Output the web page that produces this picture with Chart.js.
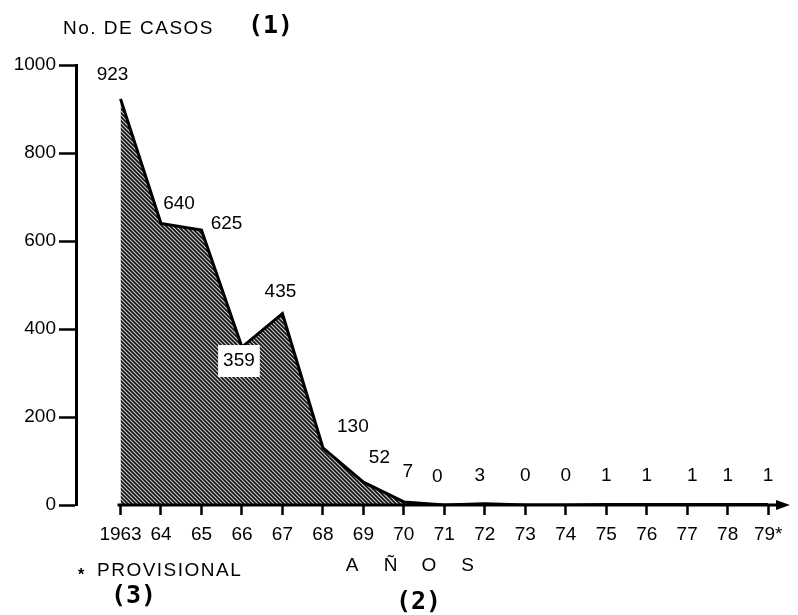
<!DOCTYPE html>
<html>
<head>
<meta charset="utf-8">
<script src="https://cdn.jsdelivr.net/npm/chart.js@4"></script>
<style>
  body { margin: 0; background: #fff; }
</style>
</head>
<body>
<canvas id="grafico" width="798" height="615"></canvas>
<script>
// Datos del gráfico
const anios = [1963, 1964, 1965, 1966, 1967, 1968, 1969, 1970, 1971, 1972, 1973, 1974, 1975, 1976, 1977, 1978, 1979];
const etiquetasAnios = ["1963", "64", "65", "66", "67", "68", "69", "70", "71", "72", "73", "74", "75", "76", "77", "78", "79*"];
const casos = [923, 640, 625, 359, 435, 130, 52, 7, 0, 3, 0, 0, 1, 1, 1, 1, 1];
const ticksY = [0, 200, 400, 600, 800, 1000];

// Desplazamiento de cada etiqueta respecto a su punto (px)
const desplazamientos = [
  [-8, -24], [18, -20], [25, -6], [-3, 14], [-2, -22], [30, -21], [16, -24], [4, -30], [-7, -28],
  [-5, -28], [0, -29], [0, -29], [0, -29], [0, -29], [5, -29], [0, -29], [0, -29]
];

const fuente = '"Liberation Sans", Arial, sans-serif';

// Trama rayada para el área
function crearTrama() {
  const t = document.createElement("canvas");
  t.width = 4; t.height = 4;
  const c = t.getContext("2d");
  c.fillStyle = "#d0d0d0";
  c.fillRect(0, 0, 4, 4);
  c.strokeStyle = "#111";
  c.lineWidth = 1.7;
  c.beginPath();
  c.moveTo(-1, -1); c.lineTo(5, 5);
  c.moveTo(-1, 3); c.lineTo(1, 5);
  c.moveTo(3, -1); c.lineTo(5, 1);
  c.stroke();
  return c.createPattern(t, "repeat");
}

// Textos, etiquetas y eje X con flecha
const anotaciones = {
  id: "anotaciones",
  afterDatasetsDraw(chart) {
    const { ctx } = chart;
    const meta = chart.getDatasetMeta(0);
    ctx.save();
    ctx.font = "19px " + fuente;
    ctx.textAlign = "center";
    ctx.textBaseline = "middle";
    meta.data.forEach((p, i) => {
      const [dx, dy] = desplazamientos[i];
      const x = p.x + dx, y = p.y + dy;
      const txt = String(casos[i]);
      if (i === 3) {
        const w = ctx.measureText(txt).width + 10;
        ctx.fillStyle = "#fff";
        ctx.fillRect(x - w / 2, y - 16, w, 32);
      }
      ctx.fillStyle = "#000";
      ctx.fillText(txt, x, y);
    });
    ctx.restore();
  },
  afterDraw(chart) {
    const { ctx, chartArea } = chart;
    const xs = chart.scales.x, ys = chart.scales.y;
    const y0 = ys.getPixelForValue(0);
    const x0 = xs.getPixelForValue(anios[0]) - 3;
    const xf = chartArea.right;
    ctx.save();
    ctx.strokeStyle = "#000";
    ctx.lineWidth = 3;
    ctx.beginPath();
    ctx.moveTo(x0, y0);
    ctx.lineTo(xf - 8, y0);
    ctx.stroke();
    ctx.fillStyle = "#000";
    ctx.beginPath();
    ctx.moveTo(xf, y0);
    ctx.lineTo(xf - 14, y0 - 5);
    ctx.lineTo(xf - 14, y0 + 5);
    ctx.closePath();
    ctx.fill();

    ctx.textBaseline = "middle";
    ctx.textAlign = "left";
    ctx.font = "19px " + fuente;
    ctx.letterSpacing = "1.5px";
    ctx.fillText("No. DE CASOS", 63, 29);
    ctx.fillText("PROVISIONAL", 97, 571);
    ctx.letterSpacing = "0px";
    ctx.font = "bold 16px " + fuente;
    ctx.fillText("*", 78, 576);
    ctx.font = "bold 25px \"DejaVu Sans Mono\", monospace";
    ctx.fillText("(1)", 248, 26);
    ctx.fillText("(3)", 111, 596);
    ctx.fillText("(2)", 396, 602);
    ctx.font = "19px " + fuente;
    ctx.textAlign = "center";
    ["A", "Ñ", "O", "S"].forEach((l, i) => ctx.fillText(l, 352 + i * 38.5, 566));
    ctx.restore();
  }
};

new Chart(document.getElementById("grafico"), {
  type: "line",
  data: {
    datasets: [{
      data: anios.map((a, i) => ({ x: a, y: casos[i] })),
      borderColor: "#000",
      borderWidth: 3,
      backgroundColor: crearTrama(),
      fill: "origin",
      tension: 0,
      pointRadius: 0
    }]
  },
  options: {
    responsive: false,
    animation: false,
    layout: { padding: { top: 65, right: 8, left: 0, bottom: 0 } },
    plugins: { legend: { display: false }, tooltip: { enabled: false } },
    scales: {
      x: {
        type: "linear",
        min: 1961.9,
        max: 1979.54,
        afterFit: (s) => { s.height = 110; },
        afterBuildTicks: (s) => { s.ticks = anios.map(v => ({ value: v })); },
        border: { display: false },
        grid: { drawOnChartArea: false, drawTicks: true, tickLength: 10, tickWidth: 2.5, color: "#000" },
        ticks: {
          autoSkip: false, maxRotation: 0, padding: 8,
          color: "#000", font: { family: fuente, size: 19 },
          callback: (v) => etiquetasAnios[anios.indexOf(v)]
        }
      },
      y: {
        min: 0,
        max: 1000,
        afterFit: (s) => { s.width = 76; },
        afterBuildTicks: (s) => { s.ticks = ticksY.map(v => ({ value: v })); },
        border: { display: true, color: "#000", width: 3 },
        grid: { drawOnChartArea: false, drawTicks: true, tickLength: 17, tickWidth: 2.5, color: "#000" },
        ticks: { padding: 3, color: "#000", font: { family: fuente, size: 19 }, callback: (v) => String(v) }
      }
    }
  },
  plugins: [anotaciones]
});
</script>
</body>
</html>
